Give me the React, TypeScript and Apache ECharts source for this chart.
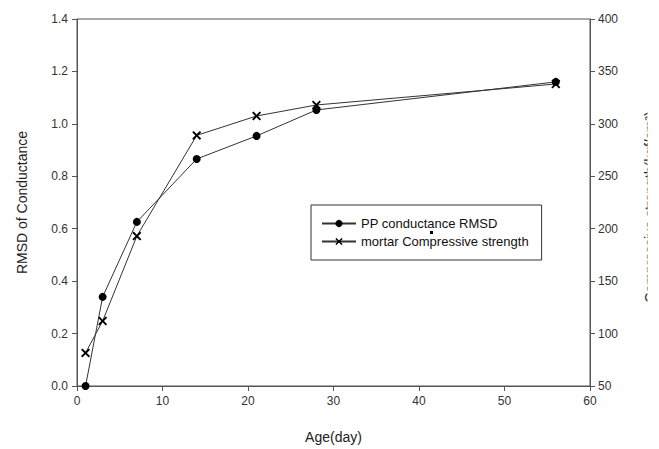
import React, { useEffect, useRef } from "react";
import * as echarts from "echarts";

const days = [1, 3, 7, 14, 21, 28, 56];
const rmsd = [0.0, 0.34, 0.626, 0.866, 0.954, 1.053, 1.16];
const strength = [81.5, 112, 193, 289, 307.5, 318, 338];
const seriesNames = ["PP conductance RMSD", "mortar Compressive strength"];

const crossPath =
  "path://M0,1.5 L1.5,0 L5,3.5 L8.5,0 L10,1.5 L6.5,5 L10,8.5 L8.5,10 L5,6.5 L1.5,10 L0,8.5 L3.5,5 Z";

export default function App() {
  const ref = useRef<HTMLDivElement>(null);
  useEffect(() => {
    if (!ref.current) return;
    const chart = echarts.init(ref.current, undefined, { renderer: "svg" });
    const font = "Liberation Sans, Arial, sans-serif";
    const axisLine = { show: true, lineStyle: { color: "#555", width: 1 } };
    chart.setOption({
      animation: false,
      backgroundColor: "#fff",
      textStyle: { fontFamily: font },
      grid: { left: 77, top: 19, right: 69, bottom: 63, show: true, borderColor: "#555", borderWidth: 1 },
      legend: {
        orient: "vertical",
        left: 311,
        top: 205,
        padding: [11, 13, 11, 10],
        itemGap: 3,
        itemWidth: 34,
        itemHeight: 9,
        borderColor: "#333",
        borderWidth: 1,
        textStyle: { fontFamily: font, fontSize: 13, color: "#111", lineHeight: 15 },
        data: seriesNames,
      },
      xAxis: {
        type: "value",
        min: 0,
        max: 60,
        interval: 10,
        name: "Age(day)",
        nameLocation: "middle",
        nameGap: 44,
        nameTextStyle: { fontSize: 14, color: "#222", fontFamily: font },
        axisLine: { ...axisLine, onZero: false },
        axisTick: { show: true, inside: false, length: 5, lineStyle: { color: "#555" } },
        axisLabel: { fontSize: 12, color: "#333", margin: 9 },
        splitLine: { show: false },
      },
      yAxis: [
        {
          type: "value",
          min: 0,
          max: 1.4,
          interval: 0.2,
          name: "RMSD of Conductance",
          nameLocation: "middle",
          nameGap: 48,
          nameRotate: 90,
          nameTextStyle: { fontSize: 14, color: "#222", fontFamily: font },
          axisLine,
          axisTick: { show: true, length: 5, lineStyle: { color: "#555" } },
          axisLabel: { fontSize: 12, color: "#333", margin: 9, formatter: (v: number) => v.toFixed(1) },
          splitLine: { show: false },
        },
        {
          type: "value",
          min: 50,
          max: 400,
          interval: 50,
          position: "right",
          axisLine,
          axisTick: { show: true, length: 5, lineStyle: { color: "#555" } },
          axisLabel: { fontSize: 12, color: "#333", margin: 8 },
          splitLine: { show: false },
        },
      ],
      series: [
        {
          name: seriesNames[0],
          type: "line",
          yAxisIndex: 0,
          data: days.map((d, i) => [d, rmsd[i]]),
          symbol: "circle",
          symbolSize: 8,
          showAllSymbol: true,
          lineStyle: { color: "#333", width: 1 },
          itemStyle: { color: "#000" },
        },
        {
          name: seriesNames[1],
          type: "line",
          yAxisIndex: 1,
          data: days.map((d, i) => [d, strength[i]]),
          symbol: crossPath,
          symbolSize: 9,
          showAllSymbol: true,
          lineStyle: { color: "#333", width: 1 },
          itemStyle: { color: "#000" },
        },
      ],
      graphic: [
        {
          type: "text",
          x: 649.5,
          y: 207,
          rotation: Math.PI / 2,
          style: {
            text: "Compressive strength(kgf/cm²)",
            font: "14px Liberation Sans, Arial, sans-serif",
            fill: "#222",
            align: "center",
            verticalAlign: "middle",
          },
          z: 10,
        },
        { type: "rect", shape: { x: 647.5, y: 0, width: 20, height: 449 }, style: { fill: "#fff" }, z: 20 },
        { type: "rect", shape: { x: 430, y: 231, width: 3, height: 3 }, style: { fill: "#000" }, z: 20 },
      ],
    });
    return () => chart.dispose();
  }, []);
  return (
    <div
      ref={ref}
      style={{ position: "absolute", left: 0, top: 0, width: 659, height: 449 }}
    />
  );
}
